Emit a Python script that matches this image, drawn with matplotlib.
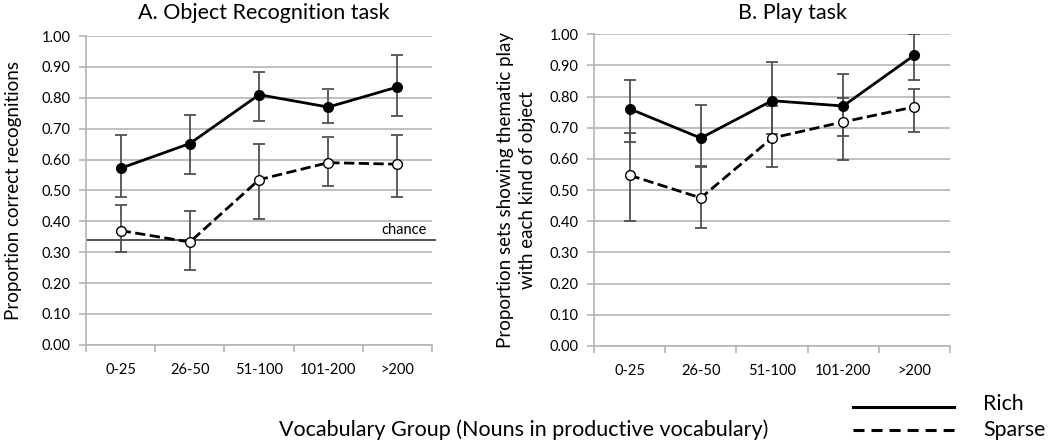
import matplotlib
matplotlib.use("Agg")
import matplotlib.pyplot as plt
import numpy as np

plt.rcParams['font.family'] = ['Lato', 'DejaVu Sans']

groups = ["0-25", "26-50", "51-100", "101-200", ">200"]

# A. Object recognition task
rec_rich = [0.572, 0.652, 0.810, 0.770, 0.835]
rec_rich_lo = [0.480, 0.552, 0.724, 0.718, 0.740]
rec_rich_hi = [0.680, 0.744, 0.884, 0.830, 0.940]
rec_sparse = [0.370, 0.333, 0.535, 0.590, 0.585]
rec_sparse_lo = [0.302, 0.244, 0.408, 0.515, 0.480]
rec_sparse_hi = [0.452, 0.433, 0.650, 0.672, 0.678]
chance = 0.34

# B. Play task
play_rich = [0.761, 0.667, 0.787, 0.770, 0.933]
play_rich_lo = [0.653, 0.575, 0.681, 0.675, 0.852]
play_rich_hi = [0.852, 0.774, 0.912, 0.874, 1.000]
play_sparse = [0.548, 0.475, 0.667, 0.719, 0.767]
play_sparse_lo = [0.400, 0.379, 0.575, 0.598, 0.688]
play_sparse_hi = [0.683, 0.579, 0.769, 0.797, 0.824]

grid_c = "#b5b5b5"
err_c = "#505050"


def draw(ax, rich, rlo, rhi, sparse, slo, shi):
    x = np.arange(len(groups))
    for y, lo, hi, ls, fc in [(rich, rlo, rhi, '-', 'black'),
                              (sparse, slo, shi, '--', 'white')]:
        y = np.array(y)
        yerr = [y - np.array(lo), np.array(hi) - y]
        ax.errorbar(x, y, yerr=yerr, fmt='none', ecolor=err_c, elinewidth=1.3,
                    capsize=4, capthick=1.3, zorder=3)
        ax.plot(x, y, ls, color='black', lw=2, marker='o', ms=7,
                mfc=fc, mec='black', mew=1, zorder=4)
    ax.set_xlim(-0.5, len(groups) - 0.5)
    ax.set_ylim(0, 1.0)
    ax.set_yticks(np.arange(0, 1.01, 0.1))
    ax.set_yticklabels([f"{v:.2f}" for v in np.arange(0, 1.01, 0.1)], fontsize=10.5)
    ax.yaxis.grid(True, color=grid_c, lw=1.2)
    ax.set_axisbelow(True)
    ax.set_xticks(x)
    ax.set_xticklabels(groups, fontsize=10.5)
    ax.set_xticks(np.arange(-0.5, len(groups), 1), minor=True)
    ax.tick_params(axis='x', which='major', length=0, pad=13)
    ax.tick_params(axis='x', which='minor', length=5, color=grid_c, width=1.2)
    ax.tick_params(axis='y', length=5, color=grid_c, width=1.2, pad=6)
    for s in ['top', 'right']:
        ax.spines[s].set_visible(False)
    for s in ['left', 'bottom']:
        ax.spines[s].set_color(grid_c)
        ax.spines[s].set_linewidth(1.2)


fig = plt.figure(figsize=(10.5, 4.45), dpi=100)
ax1 = fig.add_axes([0.082, 0.225, 0.3295, 0.694])
ax2 = fig.add_axes([0.5657, 0.2225, 0.339, 0.7004])

draw(ax1, rec_rich, rec_rich_lo, rec_rich_hi, rec_sparse, rec_sparse_lo, rec_sparse_hi)
draw(ax2, play_rich, play_rich_lo, play_rich_hi, play_sparse, play_sparse_lo, play_sparse_hi)

ax1.axhline(chance, xmin=0.003, xmax=1.009, color='#444444', lw=1.3, clip_on=False, zorder=2)
ax1.text(4.43, chance + 0.008, "chance", ha='right', va='bottom', fontsize=10.5)

ax1.set_title("A. Object Recognition task", fontsize=15.5, pad=12, x=0.514)
ax2.set_title("B. Play task", fontsize=15.5, pad=11, x=0.558)
ax1.set_ylabel("Proportion correct recognitions", fontsize=13.5, labelpad=14.5)
ax2.set_ylabel("Proportion sets showing thematic play\nwith each kind of object",
               fontsize=13.5, labelpad=10, linespacing=1.3)

fig.text(0.499, 0.034, "Vocabulary Group (Nouns in productive vocabulary)",
         ha='center', va='center', fontsize=15.5)

# legend drawn by hand
fig.add_artist(plt.Line2D([0.8124, 0.9086], [0.0854, 0.0854], color='black', lw=2.2))
fig.add_artist(plt.Line2D([0.8124, 0.9086], [0.0337, 0.0337], color='black', lw=2.2,
                          ls=(0, (3.6, 2.3))))
fig.text(0.936, 0.092, "Rich", ha='left', va='center', fontsize=15.3)
fig.text(0.936, 0.034, "Sparse", ha='left', va='center', fontsize=15.3)

fig.savefig("out.png", dpi=100)
